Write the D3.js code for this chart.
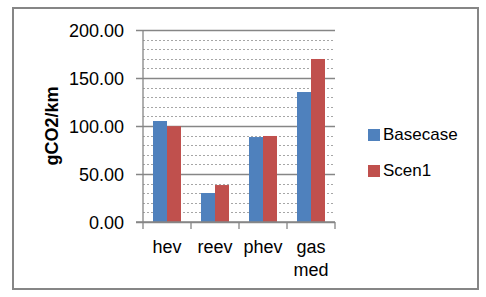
<!DOCTYPE html>
<html><head><meta charset="utf-8">
<script src="https://cdn.jsdelivr.net/npm/d3@7"></script>
<style>body{margin:0;background:#fff}svg{display:block}</style>
</head><body>
<script>
const categories = [["hev"], ["reev"], ["phev"], ["gas", "med"]];
const seriesNames = ["Basecase", "Scen1"];
const basecase = [105.2, 30.2, 88.5, 135.4];
const scen1 = [99.8, 38.5, 89.6, 169.8];
const yTicks = [0, 50, 100, 150, 200];
const colors = ["#4F81BD", "#C0504D"];
const yTitle = "gCO2/km";

(function () {
const W = 486, H = 297;
const svg = d3.select("body").append("svg").attr("width", W).attr("height", H);
const font = "'Liberation Sans', Arial, sans-serif";

svg.append("rect").attr("x", 13).attr("y", 8).attr("width", 465).attr("height", 281)
  .attr("fill", "#fff").attr("stroke", "#868686").attr("stroke-width", 2);

const pL = 143, pR = 335, pT = 30, pB = 222;
const x = d3.scaleBand().domain(d3.range(categories.length)).range([pL, pR]).paddingInner(0).paddingOuter(0);
const inner = d3.scaleBand().domain([0, 1]).range([10, 38]);
const y = d3.scaleLinear().domain([0, 200]).range([pB, pT]);

// minor gridlines
const minor = d3.range(10, 200, 10).filter(v => v % 50 !== 0);
svg.append("g").selectAll("line").data(minor).join("line")
  .attr("x1", pL).attr("x2", pR).attr("y1", d => Math.round(y(d)) + 0.5).attr("y2", d => Math.round(y(d)) + 0.5)
  .attr("stroke", "#a6a6a6").attr("stroke-width", 1).attr("stroke-dasharray", "2,2");

// major gridlines
const yAxis = d3.axisLeft(y).tickValues(yTicks).tickSize(-(pR - pL)).tickFormat(d3.format(".2f"));
const gy = svg.append("g").attr("transform", `translate(${pL},0)`).call(yAxis);
gy.select(".domain").remove();
gy.selectAll(".tick line").attr("stroke", "#868686").attr("stroke-width", 1.3).attr("x1", -7);
gy.selectAll(".tick text").attr("x", -19).attr("dy", "0.36em").attr("font-family", font).attr("font-size", 18).attr("fill", "#000");

// bars
const data = [basecase, scen1];
data.forEach((vals, si) => {
  svg.append("g").selectAll("rect").data(vals).join("rect")
    .attr("x", (d, i) => x(i) + inner(si))
    .attr("width", inner.bandwidth())
    .attr("y", d => y(d))
    .attr("height", d => y(0) - y(d))
    .attr("fill", colors[si]);
});

// axes lines
svg.append("line").attr("x1", pL).attr("x2", pL).attr("y1", pT).attr("y2", pB)
  .attr("stroke", "#868686").attr("stroke-width", 1.3);
svg.append("line").attr("x1", pL - 7).attr("x2", pR).attr("y1", pB).attr("y2", pB)
  .attr("stroke", "#868686").attr("stroke-width", 1.3);
const bounds = d3.range(categories.length + 1).map(i => pL + i * x.bandwidth());
svg.append("g").selectAll("line").data(bounds).join("line")
  .attr("x1", d => d).attr("x2", d => d).attr("y1", pB).attr("y2", pB + 7)
  .attr("stroke", "#868686").attr("stroke-width", 1.3);

// category labels
const cl = svg.append("g");
categories.forEach((lines, i) => {
  const t = cl.append("text").attr("x", x(i) + x.bandwidth() / 2).attr("y", 253)
    .attr("text-anchor", "middle").attr("font-family", font).attr("font-size", 18).attr("fill", "#000");
  lines.forEach((ln, j) => t.append("tspan").attr("x", x(i) + x.bandwidth() / 2).attr("dy", j === 0 ? 0 : 23).text(ln));
});

// y title
svg.append("text").attr("transform", "translate(58,126) rotate(-90)").attr("text-anchor", "middle")
  .attr("font-family", font).attr("font-weight", "bold").attr("font-size", 18).attr("fill", "#000").text(yTitle);

// legend
const lg = svg.append("g");
seriesNames.forEach((n, i) => {
  lg.append("rect").attr("x", 368).attr("y", 129 + i * 36).attr("width", 12).attr("height", 12).attr("fill", colors[i]);
  lg.append("text").attr("x", 383).attr("y", 140 + i * 36).attr("font-family", font).attr("font-size", 17).attr("fill", "#000").text(n);
});
})();
</script>
</body></html>
